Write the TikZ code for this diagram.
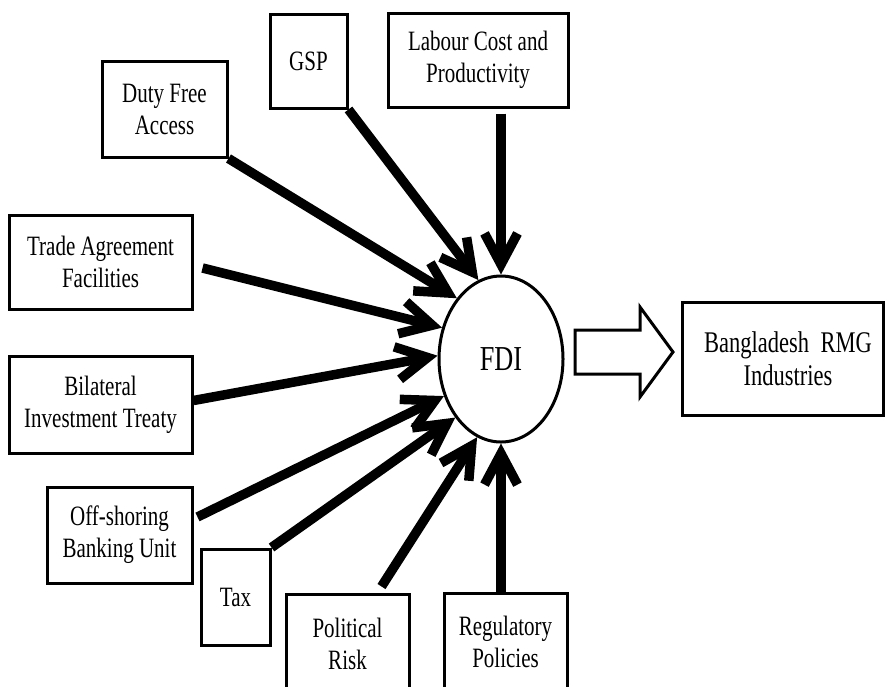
\documentclass[tikz,border=0pt]{standalone}
\usepackage{fontspec}
\setmainfont{Liberation Serif}[FakeStretch=0.75]
\usetikzlibrary{arrows.meta,shapes.geometric}
\begin{document}
\begin{tikzpicture}[x=1pt,y=-1pt,
  box/.style={draw, line width=3pt, align=center, inner sep=0pt, font=\fontsize{28}{32}\selectfont},
  feed/.style={line width=9.5pt, -{Straight Barb[length=31pt,width=33pt]}},
  hollow/.style={draw, line width=3pt, line join=miter},
]
\useasboundingbox (0,0) rectangle (885,686);
\clip (0,0) rectangle (885,686);
\node[box, minimum width=125pt, minimum height=96pt] (duty) at (164.5,109) {Duty Free\\Access};
\node[box, minimum width=77pt, minimum height=94pt] (gsp) at (308.5,61) {GSP};
\node[box, minimum width=180pt, minimum height=94pt] (lab) at (478,60) {Labour Cost and\\Productivity};
\node[box, minimum width=183pt, minimum height=94pt] (trade) at (100.5,262) {Trade Agreement\\Facilities};
\node[box, minimum width=183pt, minimum height=97pt] (bil) at (100.5,404.5) {Bilateral\\Investment Treaty};
\node[box, minimum width=145pt, minimum height=96pt] (ofs) at (119.5,535) {Off-shoring\\Banking Unit};
\node[box, minimum width=69pt, minimum height=96pt] (tax) at (235.5,597) {Tax};
\node[box, minimum width=123pt, minimum height=100pt] (pol) at (347.5,644) {Political\\Risk};
\node[box, minimum width=123pt, minimum height=98pt] (reg) at (505.5,642) {Regulatory\\Policies};
\node[box, minimum width=201pt, minimum height=113pt, font=\fontsize{30}{33}\selectfont] (rmg) at (782.5,358.5)
  {\hspace*{11pt}Bangladesh\hspace{6pt} RMG\\\hspace*{11pt}Industries};
\node[draw, ellipse, line width=3pt, inner sep=0pt, minimum width=124pt, minimum height=166pt,
      font=\fontsize{35}{40}\selectfont] (fdi) at (501,359) {FDI};

\draw[feed] ([yshift=-5pt]lab.south -| fdi.north) -- (fdi.north);
\draw[feed] (gsp.south east) -- (fdi.106);
\draw[feed] (duty.south east) -- (fdi.126);
\draw[feed] ([xshift=9pt,yshift=-6pt]trade.east) -- (fdi.152);
\draw[feed] ([yshift=4pt]bil.east) -- (fdi.177);
\draw[feed] ([xshift=4pt,yshift=18pt]ofs.east) -- (fdi.213);
\draw[feed] (tax.north east) -- (fdi.232);
\draw[feed] ([xshift=34pt,yshift=6pt]pol.north) -- (fdi.253);
\draw[feed] (reg.north -| fdi.south) -- (fdi.south);

\coordinate (hs) at (575,351.5);
\draw[hollow] (hs) ++(0,-21.5) -- ++(65,0) -- ++(0,-23) -- ++(33,45) -- ++(-33,45) -- ++(0,-23) -- ++(-65,0) -- cycle;
\end{tikzpicture}
\end{document}
